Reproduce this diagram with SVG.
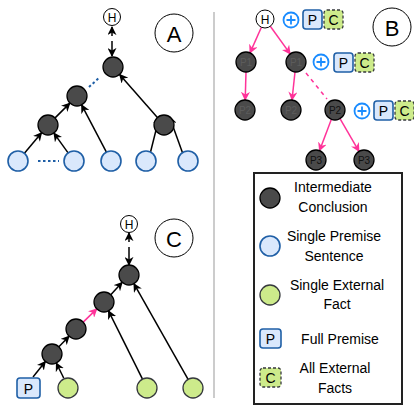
<svg xmlns="http://www.w3.org/2000/svg" width="414" height="410" viewBox="0 0 414 410">
<style>
text{font-family:"Liberation Sans",Arial,sans-serif;text-anchor:middle;dominant-baseline:central;fill:#000}
.dark{fill:#4a4a4a;stroke:#000;stroke-width:1.3}
.blue{fill:#dae8fc;stroke:#1f5fa6;stroke-width:1.6}
.green{fill:#cdeb8b;stroke:#36393d;stroke-width:1.3}
.hn{fill:#fff;stroke:#000;stroke-width:1}
.big{fill:#fff;stroke:#000;stroke-width:1}
.pbox{fill:#dae8fc;stroke:#1f5fa6;stroke-width:1.6}
.cbox{fill:#cdeb8b;stroke:#36393d;stroke-width:1.3;stroke-dasharray:3 2}
.plus{fill:#fff;stroke:#1a8cff;stroke-width:1.8}
.arr{stroke:#000;stroke-width:1.5;fill:none;marker-end:url(#ah)}
.pk{stroke:#ff3399;stroke-width:1.5;fill:none;marker-end:url(#ahp)}
.lbl{font-size:14px}
.nt{font-size:10px;fill:#5c5c5c}
.nt2{font-size:10px;fill:#111}
</style>
<defs>
<marker id="ah" viewBox="0 0 10 10" refX="9" refY="5" markerWidth="9" markerHeight="9" markerUnits="userSpaceOnUse" orient="auto"><path d="M0,0 L10,5 L0,10 L3,5 z" fill="#000"/></marker>
<marker id="ahp" viewBox="0 0 10 10" refX="9" refY="5" markerWidth="9" markerHeight="9" markerUnits="userSpaceOnUse" orient="auto"><path d="M0,0 L10,5 L0,10 L3,5 z" fill="#ff3399"/></marker>
</defs>

<line x1="214" y1="12" x2="214" y2="398" stroke="#999" stroke-width="1"/>

<g id="connectors">
<line class="arr" x1="112" y1="36" x2="112" y2="27"/>
<line class="arr" x1="112" y1="41" x2="112" y2="56"/>
<line class="arr" x1="55.1" y1="117.9" x2="69.9" y2="103.1"/>
<line class="arr" x1="24.4" y1="153.3" x2="41.6" y2="132.7"/>
<line class="arr" x1="68.1" y1="152.9" x2="53.9" y2="133.1"/>
<line class="arr" x1="106.4" y1="152.1" x2="81.6" y2="104.9"/>
<line class="arr" x1="157.4" y1="117.5" x2="119.6" y2="74.5"/>
<line class="arr" x1="150.5" y1="152.1" x2="159.5" y2="116.1"/>
<line class="arr" x1="182.5" y1="152.7" x2="169.5" y2="116.7"/>
<line x1="38" y1="161" x2="59" y2="161" stroke="#1f5fa6" stroke-width="2" stroke-dasharray="2.5 2.5"/>
<line x1="89" y1="87" x2="100" y2="77" stroke="#1f5fa6" stroke-width="2" stroke-dasharray="2.5 2.5"/>
<line class="pk" x1="261.4" y1="27.2" x2="250" y2="52.9"/>
<line class="pk" x1="270.3" y1="26.3" x2="290.2" y2="53.9"/>
<line class="pk" x1="246" y1="72" x2="245.2" y2="100"/>
<line class="pk" x1="295" y1="72" x2="292" y2="100"/>
<line x1="306" y1="73" x2="327" y2="99" stroke="#ff3399" stroke-width="1.5" stroke-dasharray="4 4"/>
<line class="pk" x1="331.4" y1="119.3" x2="319.5" y2="150.7"/>
<line class="pk" x1="340" y1="118.7" x2="359" y2="151.3"/>
<line class="arr" x1="129" y1="242" x2="129" y2="233"/>
<line class="arr" x1="129" y1="247" x2="129" y2="265"/>
<line class="arr" x1="33" y1="377" x2="45.4" y2="361.5"/>
<line class="arr" x1="63.7" y1="378" x2="56.3" y2="363"/>
<line class="arr" x1="58.9" y1="346.8" x2="69.1" y2="336.2"/>
<line class="pk" x1="83.2" y1="322.1" x2="96.8" y2="308.9"/>
<line class="arr" x1="110.8" y1="294.7" x2="122.2" y2="282.3"/>
<line class="arr" x1="142.5" y1="379.1" x2="108.5" y2="310.9"/>
<line class="arr" x1="188.1" y1="379.3" x2="133.9" y2="283.7"/>
</g>

<g id="A-H"><circle class="hn" cx="112" cy="17" r="8.5"/><text x="112" y="17.5" font-size="12">H</text></g>
<g id="A-label"><circle class="big" cx="174" cy="33" r="19"/><text x="174" y="34" font-size="22">A</text></g>
<g id="A-top"><circle class="dark" cx="113" cy="67" r="10"/></g>
<g id="A-ml"><circle class="dark" cx="77" cy="96" r="10"/></g>
<g id="A-ll"><circle class="dark" cx="48" cy="125" r="10"/></g>
<g id="A-r"><circle class="dark" cx="164" cy="125" r="10"/></g>
<g id="A-b1"><circle class="blue" cx="18" cy="161" r="10"/></g>
<g id="A-b2"><circle class="blue" cx="74" cy="161" r="10"/></g>
<g id="A-b3"><circle class="blue" cx="111" cy="161" r="10"/></g>
<g id="A-b4"><circle class="blue" cx="146" cy="161" r="10"/></g>
<g id="A-b5"><circle class="blue" cx="188" cy="161" r="10"/></g>

<g id="B-H"><circle class="hn" cx="265" cy="19" r="9"/><text x="265" y="19.5" font-size="12">H</text></g>
<g id="B-label"><circle class="big" cx="392" cy="27" r="19"/><text x="392" y="28" font-size="22">B</text></g>
<g id="B-p1a"><circle class="dark" cx="246" cy="62" r="10"/><text class="nt" x="246" y="62.5">P1</text></g>
<g id="B-p1b"><circle class="dark" cx="296" cy="62" r="10"/><text class="nt" x="296" y="62.5">P1</text></g>
<g id="B-p2a"><circle class="dark" cx="245" cy="110" r="10"/><text class="nt" x="245" y="110.5">P2</text></g>
<g id="B-p2b"><circle class="dark" cx="291" cy="110" r="10"/><text class="nt" x="291" y="110.5">P2</text></g>
<g id="B-p2c"><circle class="dark" cx="335" cy="110" r="10"/><text class="nt2" x="335" y="110.5">P2</text></g>
<g id="B-p3a"><circle class="dark" cx="316" cy="160" r="10"/><text class="nt2" x="316" y="160.5">P3</text></g>
<g id="B-p3b"><circle class="dark" cx="364" cy="160" r="10"/><text class="nt2" x="364" y="160.5">P3</text></g>
<g id="B-add1">
<circle class="plus" cx="291" cy="20" r="7.5"/><path d="M286.5,20 H295.5 M291,15.5 V24.5" stroke="#1a8cff" stroke-width="1.8"/>
<rect class="pbox" x="303" y="10" width="19" height="19" rx="3"/><text x="312.5" y="20" font-size="14">P</text>
<rect class="cbox" x="324" y="10" width="19" height="19" rx="3"/><text x="333.5" y="20" font-size="14">C</text>
</g>
<g id="B-add2">
<circle class="plus" cx="321" cy="62" r="7.5"/><path d="M316.5,62 H325.5 M321,57.5 V66.5" stroke="#1a8cff" stroke-width="1.8"/>
<rect class="pbox" x="334" y="53" width="19" height="19" rx="3"/><text x="343.5" y="63" font-size="14">P</text>
<rect class="cbox" x="355" y="53" width="19" height="19" rx="3"/><text x="364.5" y="63" font-size="14">C</text>
</g>
<g id="B-add3">
<circle class="plus" cx="362" cy="111" r="7.5"/><path d="M357.5,111 H366.5 M362,106.5 V115.5" stroke="#1a8cff" stroke-width="1.8"/>
<rect class="pbox" x="374" y="101" width="19" height="19" rx="3"/><text x="383.5" y="111" font-size="14">P</text>
<rect class="cbox" x="395" y="101" width="19" height="19" rx="3"/><text x="404.5" y="111" font-size="14">C</text>
</g>

<g id="C-H"><circle class="hn" cx="129" cy="224" r="8.5"/><text x="129" y="224.5" font-size="12">H</text></g>
<g id="C-label"><circle class="big" cx="174" cy="238" r="19"/><text x="174" y="239" font-size="22">C</text></g>
<g id="C-top"><circle class="dark" cx="129" cy="275" r="10"/></g>
<g id="C-n2"><circle class="dark" cx="104" cy="302" r="10"/></g>
<g id="C-n3"><circle class="dark" cx="76" cy="329" r="10"/></g>
<g id="C-n4"><circle class="dark" cx="52" cy="354" r="10"/></g>
<g id="C-p"><rect class="pbox" x="17" y="378" width="23" height="20" rx="3"/><text x="28.5" y="388.5" font-size="14">P</text></g>
<g id="C-g1"><circle class="green" cx="68" cy="388" r="10"/></g>
<g id="C-g2"><circle class="green" cx="147" cy="388" r="10"/></g>
<g id="C-g3"><circle class="green" cx="193" cy="388" r="10"/></g>

<g id="legend">
<rect x="254" y="173" width="148" height="231" fill="#fff" stroke="#222" stroke-width="2"/>
<circle class="dark" cx="270" cy="198" r="10"/>
<text class="lbl" x="333" y="187">Intermediate</text>
<text class="lbl" x="333" y="207">Conclusion</text>
<circle class="blue" cx="270" cy="246" r="10"/>
<text class="lbl" x="334" y="236">Single Premise</text>
<text class="lbl" x="334" y="256">Sentence</text>
<circle class="green" cx="270" cy="295" r="10"/>
<text class="lbl" x="337" y="285">Single External</text>
<text class="lbl" x="337" y="304">Fact</text>
<rect class="pbox" x="260" y="329" width="21" height="19" rx="3"/><text x="270.5" y="339" font-size="14">P</text>
<text class="lbl" x="340" y="339">Full Premise</text>
<rect class="cbox" x="260" y="368" width="21" height="19" rx="3"/><text x="270.5" y="378" font-size="14">C</text>
<text class="lbl" x="335" y="368">All External</text>
<text class="lbl" x="335" y="388">Facts</text>
</g>
</svg>
